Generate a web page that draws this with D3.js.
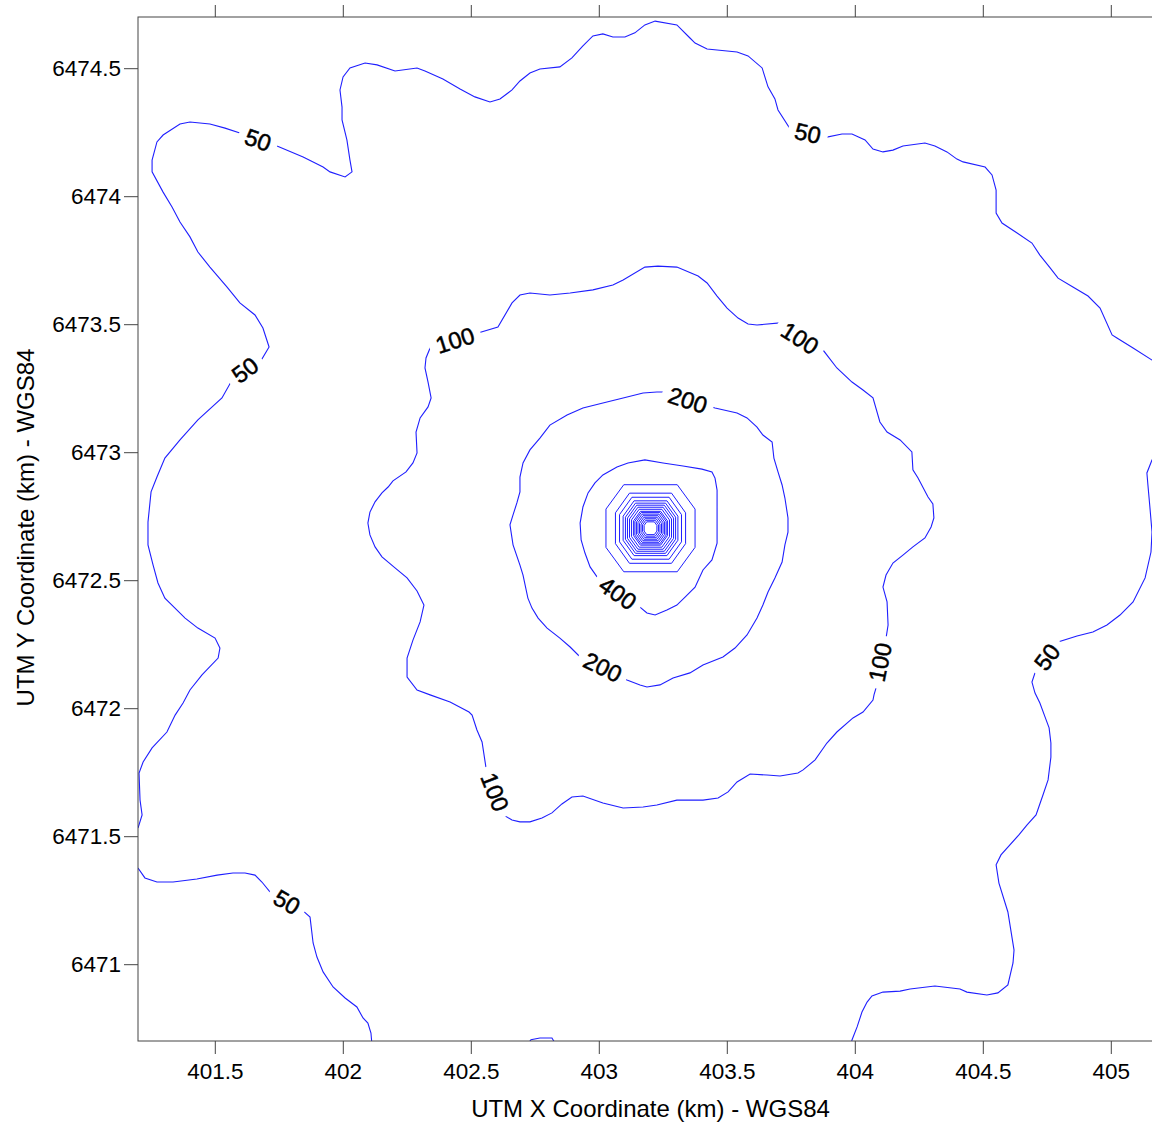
<!DOCTYPE html>
<html><head><meta charset="utf-8">
<script src="https://cdn.jsdelivr.net/npm/d3@7"></script>
<style>
body{margin:0;background:#fff;}
text{font-family:Arial,"Liberation Sans",sans-serif;}
</style></head><body>
<svg id="c" width="1152" height="1124"></svg>
<script>
// ---- data (UTM km) ----
const xTicks=[401.5,402,402.5,403,403.5,404,404.5,405];
const yTicks=[6471,6471.5,6472,6472.5,6473,6473.5,6474,6474.5];
const xDomain=[401.2,405.2];
const yDomain=[6470.7,6474.7];

const c50a=[[401.200,6471.532],[401.216,6471.583],[401.208,6471.641],[401.204,6471.747],[401.220,6471.790],[401.255,6471.845],[401.313,6471.907],[401.345,6471.973],[401.376,6472.020],[401.403,6472.071],[401.450,6472.130],[401.513,6472.196],[401.520,6472.235],[401.501,6472.274],[401.434,6472.313],[401.384,6472.352],[401.305,6472.430],[401.278,6472.489],[401.259,6472.559],[401.239,6472.638],[401.239,6472.727],[401.251,6472.845],[401.274,6472.903],[401.305,6472.977],[401.364,6473.048],[401.434,6473.126],[401.528,6473.212],[401.563,6473.274],[401.618,6473.321],[401.684,6473.364],[401.712,6473.411],[401.688,6473.485],[401.657,6473.536],[401.598,6473.583],[401.548,6473.645],[401.481,6473.723],[401.434,6473.782],[401.403,6473.841],[401.364,6473.899],[401.333,6473.958],[401.298,6474.016],[401.255,6474.095],[401.255,6474.141],[401.274,6474.212],[401.298,6474.239],[401.364,6474.282],[401.403,6474.290],[401.481,6474.282],[401.540,6474.266],[401.598,6474.247],[401.669,6474.220],[401.743,6474.196],[401.845,6474.153],[401.923,6474.114],[401.950,6474.095],[402.009,6474.075],[402.036,6474.095],[402.028,6474.141],[402.016,6474.220],[401.997,6474.298],[401.997,6474.348],[401.989,6474.415],[402.001,6474.466],[402.028,6474.501],[402.087,6474.520],[402.134,6474.513],[402.204,6474.489],[402.290,6474.501],[402.321,6474.489],[402.391,6474.458],[402.458,6474.419],[402.516,6474.388],[402.575,6474.368],[402.614,6474.380],[402.661,6474.415],[402.692,6474.450],[402.731,6474.481],[402.770,6474.497],[402.848,6474.505],[402.895,6474.540],[402.938,6474.587],[402.977,6474.626],[403.016,6474.634],[403.055,6474.622],[403.102,6474.622],[403.141,6474.638],[403.180,6474.669],[403.220,6474.684],[403.305,6474.669],[403.356,6474.618],[403.376,6474.598],[403.423,6474.575],[403.462,6474.571],[403.540,6474.563],[403.583,6474.548],[403.638,6474.501],[403.661,6474.427],[403.688,6474.380],[403.700,6474.337],[403.747,6474.263],[403.817,6474.247],[403.891,6474.231],[403.950,6474.243],[403.989,6474.243],[404.040,6474.220],[404.071,6474.184],[404.110,6474.173],[404.149,6474.180],[404.188,6474.196],[404.274,6474.208],[404.313,6474.196],[404.360,6474.173],[404.399,6474.145],[404.423,6474.134],[404.509,6474.114],[404.536,6474.083],[404.552,6474.024],[404.552,6473.934],[404.575,6473.895],[404.634,6473.856],[404.692,6473.817],[404.723,6473.770],[404.763,6473.720],[404.794,6473.680],[404.852,6473.645],[404.911,6473.610],[404.958,6473.563],[405.005,6473.458],[405.024,6473.446],[405.087,6473.407],[405.161,6473.360],[405.200,6473.345]];
const c50b=[[405.200,6472.989],[405.161,6472.970],[405.141,6472.919],[405.145,6472.872],[405.153,6472.782],[405.161,6472.688],[405.157,6472.610],[405.134,6472.509],[405.087,6472.415],[405.036,6472.364],[404.985,6472.325],[404.930,6472.298],[404.868,6472.282],[404.794,6472.259],[404.751,6472.200],[404.704,6472.138],[404.692,6472.102],[404.704,6472.059],[404.723,6472.020],[404.743,6471.966],[404.759,6471.923],[404.766,6471.864],[404.766,6471.809],[404.755,6471.720],[404.735,6471.661],[404.708,6471.583],[404.673,6471.544],[404.641,6471.505],[404.571,6471.427],[404.552,6471.388],[404.563,6471.317],[404.598,6471.204],[404.622,6471.055],[404.618,6471.005],[404.598,6470.919],[404.559,6470.888],[404.516,6470.880],[404.438,6470.891],[404.411,6470.903],[404.313,6470.915],[404.216,6470.903],[404.177,6470.895],[404.110,6470.891],[404.067,6470.876],[404.048,6470.852],[404.028,6470.813],[404.009,6470.755],[403.989,6470.704],[403.985,6470.684]];
const c50c=[[401.200,6471.376],[401.227,6471.337],[401.274,6471.321],[401.337,6471.321],[401.430,6471.333],[401.509,6471.348],[401.571,6471.356],[401.618,6471.356],[401.657,6471.348],[401.684,6471.321],[401.716,6471.282],[401.782,6471.243],[401.845,6471.208],[401.872,6471.184],[401.884,6471.083],[401.899,6471.028],[401.923,6470.970],[401.962,6470.911],[402.009,6470.868],[402.055,6470.833],[402.079,6470.790],[402.098,6470.770],[402.110,6470.731],[402.114,6470.684]];
const c50d=[[402.720,6470.684],[402.735,6470.705],[402.770,6470.712],[402.817,6470.712],[402.833,6470.684]];
const c100=[[402.438,6473.438],[402.528,6473.466],[402.606,6473.489],[402.661,6473.583],[402.692,6473.614],[402.731,6473.622],[402.809,6473.614],[402.888,6473.622],[402.977,6473.634],[403.055,6473.653],[403.095,6473.673],[403.180,6473.723],[403.231,6473.727],[403.305,6473.723],[403.388,6473.688],[403.423,6473.661],[403.462,6473.610],[403.501,6473.563],[403.544,6473.524],[403.583,6473.501],[403.618,6473.497],[403.708,6473.505],[403.786,6473.446],[403.876,6473.399],[403.930,6473.329],[403.989,6473.274],[404.032,6473.243],[404.071,6473.212],[404.098,6473.118],[404.126,6473.079],[404.177,6473.048],[404.223,6473.001],[404.227,6472.931],[404.247,6472.899],[404.286,6472.825],[404.305,6472.798],[404.309,6472.743],[404.298,6472.708],[404.274,6472.665],[404.227,6472.630],[404.188,6472.598],[404.149,6472.567],[404.122,6472.520],[404.110,6472.473],[404.126,6472.415],[404.130,6472.325],[404.122,6472.274],[404.098,6472.180],[404.083,6472.079],[404.075,6472.052],[404.071,6472.032],[404.032,6471.985],[403.993,6471.962],[403.930,6471.907],[403.891,6471.864],[403.845,6471.798],[403.798,6471.759],[403.778,6471.747],[403.708,6471.735],[403.657,6471.739],[403.591,6471.743],[403.540,6471.712],[403.505,6471.673],[403.466,6471.649],[403.407,6471.641],[403.305,6471.641],[403.227,6471.622],[403.173,6471.614],[403.095,6471.610],[403.016,6471.630],[402.938,6471.657],[402.895,6471.653],[402.856,6471.626],[402.817,6471.591],[402.778,6471.571],[402.731,6471.556],[402.692,6471.556],[402.661,6471.563],[402.634,6471.579],[402.595,6471.673],[402.559,6471.770],[402.544,6471.868],[402.524,6471.915],[402.505,6471.973],[402.493,6471.985],[402.419,6472.024],[402.341,6472.052],[402.290,6472.071],[402.251,6472.122],[402.251,6472.196],[402.274,6472.266],[402.302,6472.337],[402.317,6472.403],[402.290,6472.458],[402.251,6472.509],[402.204,6472.548],[402.153,6472.591],[402.126,6472.630],[402.106,6472.677],[402.098,6472.723],[402.106,6472.766],[402.126,6472.806],[402.153,6472.841],[402.177,6472.864],[402.196,6472.888],[402.247,6472.923],[402.274,6472.958],[402.290,6472.997],[402.286,6473.079],[402.302,6473.134],[402.333,6473.177],[402.345,6473.212],[402.333,6473.274],[402.321,6473.329],[402.325,6473.368],[402.341,6473.407]];
const c200=[[403.348,6473.204],[403.454,6473.173],[403.540,6473.153],[403.579,6473.134],[403.618,6473.098],[403.641,6473.067],[403.677,6473.040],[403.684,6472.977],[403.700,6472.923],[403.716,6472.872],[403.727,6472.821],[403.739,6472.743],[403.739,6472.688],[403.727,6472.638],[403.716,6472.571],[403.688,6472.509],[403.661,6472.454],[403.641,6472.403],[403.618,6472.352],[403.579,6472.286],[403.532,6472.235],[403.485,6472.200],[403.407,6472.169],[403.356,6472.138],[403.290,6472.118],[403.239,6472.091],[403.188,6472.083],[403.161,6472.091],[403.110,6472.110],[403.016,6472.161],[402.927,6472.200],[402.888,6472.239],[402.848,6472.274],[402.798,6472.313],[402.763,6472.352],[402.739,6472.391],[402.723,6472.430],[402.704,6472.520],[402.692,6472.559],[402.665,6472.638],[402.653,6472.716],[402.665,6472.755],[402.680,6472.802],[402.692,6472.845],[402.692,6472.903],[402.704,6472.958],[402.731,6473.009],[402.770,6473.055],[402.809,6473.106],[402.876,6473.145],[402.938,6473.173],[403.016,6473.192],[403.095,6473.212],[403.173,6473.231],[403.227,6473.235],[403.266,6473.235]];
const c400=[[403.075,6472.450],[403.161,6472.395],[403.188,6472.372],[403.220,6472.364],[403.266,6472.384],[403.305,6472.403],[403.337,6472.434],[403.376,6472.473],[403.407,6472.540],[403.442,6472.579],[403.462,6472.645],[403.462,6472.704],[403.462,6472.774],[403.462,6472.852],[403.454,6472.899],[403.442,6472.923],[403.403,6472.934],[403.329,6472.946],[403.251,6472.958],[403.180,6472.970],[403.114,6472.958],[403.071,6472.942],[403.016,6472.911],[402.985,6472.880],[402.958,6472.841],[402.938,6472.786],[402.927,6472.723],[402.931,6472.657],[402.946,6472.606],[402.966,6472.552],[402.993,6472.513]];
// inner (unlabelled) rings round the source: extents [x0,x1,y0,y1]
const ringLevels=[600,800,1000,1200,1400,1600,1800,2000,2200,2400,2600,2800,3000,3200,3400,3600];
const ringX0=[403.028,403.065,403.081,403.095,403.104,403.112,403.120,403.128,403.136,403.141,403.147,403.153,403.159,403.165,403.171,403.177];
const ringX1=[403.376,403.339,403.323,403.309,403.300,403.292,403.284,403.276,403.268,403.263,403.257,403.251,403.245,403.239,403.233,403.227];
const ringY0=[6472.533,6472.566,6472.582,6472.596,6472.605,6472.613,6472.621,6472.629,6472.637,6472.642,6472.648,6472.654,6472.660,6472.666,6472.672,6472.678];
const ringY1=[6472.873,6472.840,6472.824,6472.810,6472.801,6472.793,6472.785,6472.777,6472.769,6472.764,6472.758,6472.752,6472.746,6472.740,6472.734,6472.728];

const contourLabels=[
 {line:"c50a",text:"50",at:[401.669,6474.220]},
 {line:"c50a",text:"50",at:[401.618,6473.321]},
 {line:"c50a",text:"50",at:[403.817,6474.247]},
 {line:"c50b",text:"50",at:[404.751,6472.200]},
 {line:"c50c",text:"50",at:[401.782,6471.243]},
 {line:"c100",text:"100",at:[402.438,6473.438]},
 {line:"c100",text:"100",at:[403.786,6473.446]},
 {line:"c100",text:"100",at:[404.098,6472.180]},
 {line:"c100",text:"100",at:[402.595,6471.673]},
 {line:"c200",text:"200",at:[403.348,6473.204]},
 {line:"c200",text:"200",at:[403.016,6472.161]},
 {line:"c400",text:"400",at:[403.075,6472.450]}
];
const xTitle="UTM X Coordinate (km) - WGS84";
const yTitle="UTM Y Coordinate (km) - WGS84";

// ---- drawing ----
const lines={c50a:{pts:c50a,closed:false},c50b:{pts:c50b,closed:false},c50c:{pts:c50c,closed:false},c50d:{pts:c50d,closed:false},
  c100:{pts:c100,closed:true},c200:{pts:c200,closed:true},c400:{pts:c400,closed:true}};
const L=138,T=17,R=1162,B=1041;
const x=d3.scaleLinear().domain(xDomain).range([L,R]);
const y=d3.scaleLinear().domain(yDomain).range([B,T]);
const svg=d3.select("#c");
svg.append("rect").attr("width",1152).attr("height",1124).attr("fill","#fff");
svg.append("defs").append("clipPath").attr("id","clip").append("rect")
  .attr("x",L).attr("y",T).attr("width",R-L).attr("height",B-T);
const g=svg.append("g").attr("clip-path","url(#clip)");
const lineGen=d3.line().x(d=>x(d[0])).y(d=>y(d[1]));
const blue="#1f1fff";
Object.values(lines).forEach(c=>{
  g.append("path").attr("d",lineGen(c.pts)+(c.closed?"Z":""))
   .attr("fill","none").attr("stroke",blue).attr("stroke-width",1.1);
});
// rings: octagons from extents
ringLevels.forEach((lv,i)=>{
  const x0=x(ringX0[i]),x1=x(ringX1[i]),y0=y(ringY1[i]),y1=y(ringY0[i]);
  const kx=(x1-x0)*0.2,ky=(y1-y0)*0.28;
  const p=[[x0+kx,y0],[x1-kx,y0],[x1,y0+ky],[x1,y1-ky],[x1-kx,y1],[x0+kx,y1],[x0,y1-ky],[x0,y0+ky]];
  g.append("path").attr("d","M"+p.map(q=>q.join(",")).join("L")+"Z")
   .attr("fill","none").attr("stroke",blue).attr("stroke-width",1);
});
// labels
const lg=svg.append("g").attr("clip-path","url(#clip)");
contourLabels.forEach(lb=>{
  const pts=lines[lb.line].pts;
  let idx=0,best=1e9;
  pts.forEach((p,i)=>{const d=Math.hypot(p[0]-lb.at[0],p[1]-lb.at[1]);if(d<best){best=d;idx=i;}});
  const n=pts.length;
  const a=pts[(idx-1+n)%n],b=pts[(idx+1)%n];
  let ang=Math.atan2(y(b[1])-y(a[1]),x(b[0])-x(a[0]))*180/Math.PI;
  if(ang>90)ang-=180; if(ang<-90)ang+=180;
  const gg=lg.append("g").attr("transform",`translate(${x(lb.at[0])},${y(lb.at[1])}) rotate(${ang})`);
  const rect=gg.append("rect").attr("fill","#fff");
  const t=gg.append("text").attr("text-anchor","middle").attr("dy","0.36em")
    .attr("font-size",23.5).attr("fill","#000").attr("stroke","#000").attr("stroke-width",0.5).text(lb.text);
  const w=t.node().getComputedTextLength();
  rect.attr("x",-w/2-7).attr("y",-11).attr("width",w+14).attr("height",22);
});
// axes
const axCol="#444";
const bx=svg.append("g").attr("transform",`translate(0,${B})`)
  .call(d3.axisBottom(x).tickValues(xTicks).tickSize(13).tickPadding(9).tickFormat(d=>String(d)));
const lx=svg.append("g").attr("transform",`translate(${L},0)`)
  .call(d3.axisLeft(y).tickValues(yTicks).tickSize(14).tickPadding(3).tickFormat(d=>String(d)));
const tx=svg.append("g").attr("transform",`translate(0,${T})`)
  .call(d3.axisTop(x).tickValues(xTicks).tickSize(12).tickFormat(""));
[bx,lx,tx].forEach(a=>{
  a.select(".domain").remove();
  a.selectAll("line").attr("stroke",axCol);
  a.selectAll("text").attr("font-size",22.5).attr("fill","#000").attr("font-family","Arial, 'Liberation Sans', sans-serif");
});
svg.append("rect").attr("x",L).attr("y",T).attr("width",R-L).attr("height",B-T)
  .attr("fill","none").attr("stroke",axCol).attr("stroke-width",1);
svg.append("text").attr("x",650.5).attr("y",1117).attr("text-anchor","middle")
  .attr("font-size",24).attr("fill","#000").text(xTitle);
svg.append("text").attr("transform",`translate(34,527.5) rotate(-90)`).attr("text-anchor","middle")
  .attr("font-size",24).attr("fill","#000").text(yTitle);
</script>
</body></html>
